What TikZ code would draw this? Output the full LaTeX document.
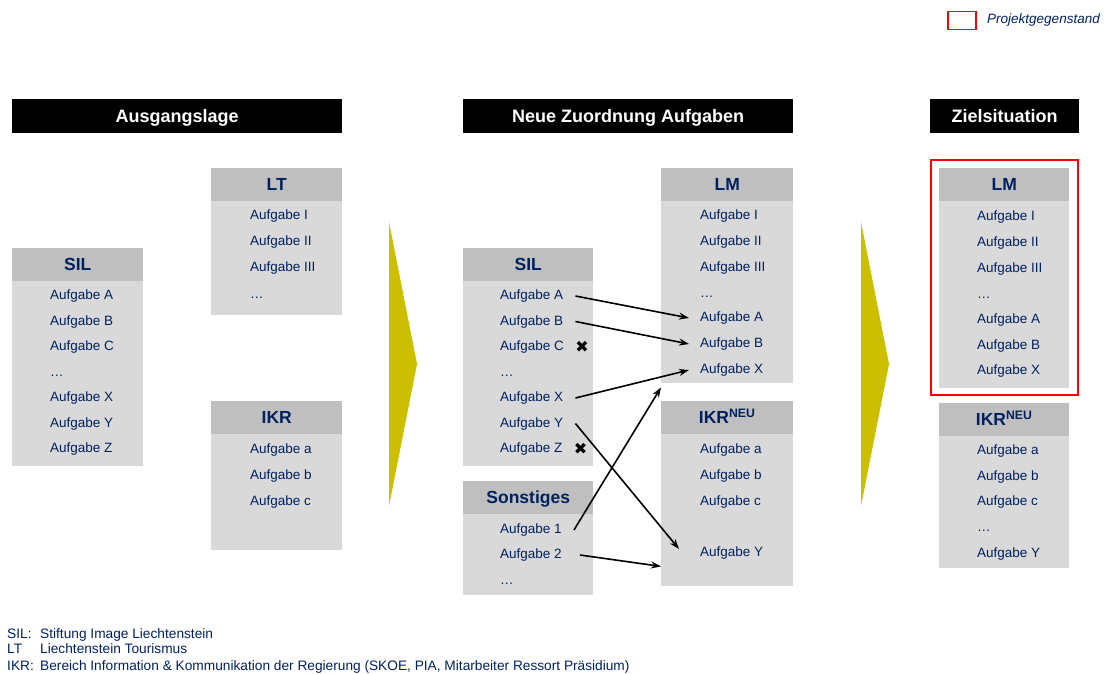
\documentclass[tikz,border=0pt]{standalone}
\usepackage{fontspec}
\setmainfont{Liberation Sans}
\newfontfamily\symfont{DejaVu Sans}
\usetikzlibrary{positioning, arrows.meta}
\definecolor{navy}{RGB}{0,32,96}
\definecolor{kopfgrau}{RGB}{191,191,191}
\definecolor{rumpfgrau}{RGB}{217,217,217}
\definecolor{gelb}{RGB}{204,190,0}
\begin{document}
\begin{tikzpicture}[x=1pt, y=-1pt, >={Stealth[length=10pt, width=7pt]},
	kopf/.style={fill=black, text=white, font=\fontsize{18}{20}\selectfont\bfseries, inner sep=0pt, anchor=north west, minimum height=34pt, text height=17pt, text depth=4pt},
	titel/.style={fill=kopfgrau, text=navy, font=\fontsize{17.5}{20}\selectfont\bfseries, inner sep=0pt, anchor=north west, minimum width=131pt, minimum height=33pt, text height=16.5pt, text depth=4pt},
	rumpf/.style={fill=rumpfgrau, inner sep=0pt, anchor=north west, minimum width=131pt},
	eintrag/.style={text=navy, font=\fontsize{13.5}{15}\selectfont, inner sep=0pt, anchor=west, text height=10pt, text depth=3pt},
	pfeil/.style={->, line width=1.6pt},
	kreuz/.style={font=\symfont\bfseries\fontsize{16}{16}\selectfont, inner sep=0pt},
	fussnote/.style={text=navy, font=\fontsize{13.7}{15}\selectfont, inner sep=0pt, anchor=base west}]
	\useasboundingbox (0,0) rectangle (1110,674);
	
	% Legende
	\node[draw=red, line width=1.5pt, minimum width=28pt, minimum height=18pt, inner sep=0pt, anchor=north west] (legende) at (947,11) {};
	\node[text=navy, font=\fontsize{13.5}{15}\selectfont\itshape, inner sep=0pt, anchor=west] (legtext) at (987,20) {Projektgegenstand};
	
	% Spaltenköpfe
	\node[kopf, minimum width=330pt] (ausgang) at (12,99) {Ausgangslage};
	\node[kopf, minimum width=330pt] (zuordnung) at (463,99) {Neue Zuordnung Aufgaben};
	\node[kopf, minimum width=149pt] (ziel) at (930,99) {Zielsituation};
	
	% Übergangspfeile
	\fill[gelb] (389,222) -- (417,364) -- (389,506) -- cycle;
	\fill[gelb] (861,222) -- (889,364) -- (861,506) -- cycle;
	
	% Ausgangslage: SIL
	\node[titel] (silT) at (12,248) {SIL};
	\node[rumpf, minimum height=185pt] (silR) at (12,281) {};
	\foreach \n/\t [count=\i from 0] in {A/Aufgabe A,B/Aufgabe B,C/Aufgabe C,D/\dots,X/Aufgabe X,Y/Aufgabe Y,Z/Aufgabe Z}
		\node[eintrag] (sil\n) at (50,{296+\i*25.5}) {\t};
	
	% Ausgangslage: LT
	\node[titel] (ltT) at (211,168) {LT};
	\node[rumpf, minimum height=114pt] (ltR) at (211,201) {};
	\foreach \n/\t/\y in {I/Aufgabe I/216,II/Aufgabe II/242,III/Aufgabe III/268,D/\dots/295}
		\node[eintrag] (lt\n) at (250,\y) {\t};
	
	% Ausgangslage: IKR
	\node[titel] (ikrT) at (211,401) {IKR};
	\node[rumpf, minimum height=116pt] (ikrR) at (211,434) {};
	\foreach \n/\t/\y in {a/Aufgabe a/450,b/Aufgabe b/476,c/Aufgabe c/502}
		\node[eintrag] (ikr\n) at (250,\y) {\t};
	
	% Neue Zuordnung: SIL
	\node[titel, minimum width=130pt] (nsilT) at (463,248) {SIL};
	\node[rumpf, minimum width=130pt, minimum height=185pt] (nsilR) at (463,281) {};
	\foreach \n/\t [count=\i from 0] in {A/Aufgabe A,B/Aufgabe B,C/Aufgabe C,D/\dots,X/Aufgabe X,Y/Aufgabe Y,Z/Aufgabe Z}
		\node[eintrag] (nsil\n) at (500,{296+\i*25.5}) {\t};
	\node[kreuz, right=11pt of nsilC] (kreuzC) {✖};
	\node[kreuz, right=11pt of nsilZ] (kreuzZ) {✖};
	
	% Neue Zuordnung: Sonstiges
	\node[titel, minimum width=130pt] (sonstT) at (463,481) {Sonstiges};
	\node[rumpf, minimum width=130pt, minimum height=81pt] (sonstR) at (463,514) {};
	\foreach \n/\t/\y in {1/Aufgabe 1/530,2/Aufgabe 2/555,D/\dots/581}
		\node[eintrag] (sonst\n) at (500,\y) {\t};
	
	% Neue Zuordnung: LM
	\node[titel, minimum width=132pt] (nlmT) at (661,168) {LM};
	\node[rumpf, minimum width=132pt, minimum height=182pt] (nlmR) at (661,201) {};
	\foreach \n/\t/\y in {I/Aufgabe I/216,II/Aufgabe II/242,III/Aufgabe III/268,D/\dots/294,A/Aufgabe A/318,B/Aufgabe B/344,X/Aufgabe X/370}
		\node[eintrag] (nlm\n) at (700,\y) {\t};
	
	% Neue Zuordnung: IKR neu
	\node[titel, minimum width=132pt] (nikrT) at (661,401) {IKR\textsuperscript{NEU}};
	\node[rumpf, minimum width=132pt, minimum height=152pt] (nikrR) at (661,434) {};
	\foreach \n/\t/\y in {a/Aufgabe a/450,b/Aufgabe b/476,c/Aufgabe c/502,Y/Aufgabe Y/553}
		\node[eintrag] (nikr\n) at (700,\y) {\t};
	
	% Zuordnungspfeile
	\draw[pfeil] ([xshift=12pt]nsilA.east) -- ([xshift=-11pt]nlmA.west);
	\draw[pfeil] ([xshift=12pt]nsilB.east) -- ([xshift=-11pt]nlmB.west);
	\draw[pfeil] ([xshift=12pt]nsilX.east) -- ([xshift=-11pt]nlmX.west);
	\draw[pfeil] ([xshift=12pt]nsilY.east) -- ([xshift=-21pt,yshift=4pt]nikrY.west);
	\draw[pfeil] ([xshift=12pt]sonst1.east) -- ([yshift=-4pt]nlmR.south west);
	\draw[pfeil] ([xshift=18pt]sonst2.east) -- ([yshift=20pt]nikrR.south west);
	
	% Zielsituation
	\draw[red, line width=2.5pt] (931,160) rectangle (1078,395);
	\node[titel, minimum width=130pt] (zlmT) at (939,168) {LM};
	\node[rumpf, minimum width=130pt, minimum height=187pt] (zlmR) at (939,201) {};
	\foreach \n/\t/\y in {I/Aufgabe I/217,II/Aufgabe II/243,III/Aufgabe III/269,D/\dots/295,A/Aufgabe A/320,B/Aufgabe B/346,X/Aufgabe X/371}
		\node[eintrag] (zlm\n) at (977,\y) {\t};
	\node[titel, minimum width=130pt] (zikrT) at (939,403) {IKR\textsuperscript{NEU}};
	\node[rumpf, minimum width=130pt, minimum height=132pt] (zikrR) at (939,436) {};
	\foreach \n/\t/\y in {a/Aufgabe a/451,b/Aufgabe b/477,c/Aufgabe c/502,D/\dots/528,Y/Aufgabe Y/554}
		\node[eintrag] (zikr\n) at (977,\y) {\t};
	
	% Fußnoten
	\foreach \k/\l/\t/\y in {sil/SIL:/Stiftung Image Liechtenstein/638.5, lt/LT/Liechtenstein Tourismus/653.5, ikr/IKR:/{Bereich Information \& Kommunikation der Regierung (SKOE, PIA, Mitarbeiter Ressort Präsidium)}/670}{
		\node[fussnote] (fn\k) at (7,\y) {\l};
		\node[fussnote] (fntext\k) at (40,\y) {\t};
	}
\end{tikzpicture}
\end{document}
